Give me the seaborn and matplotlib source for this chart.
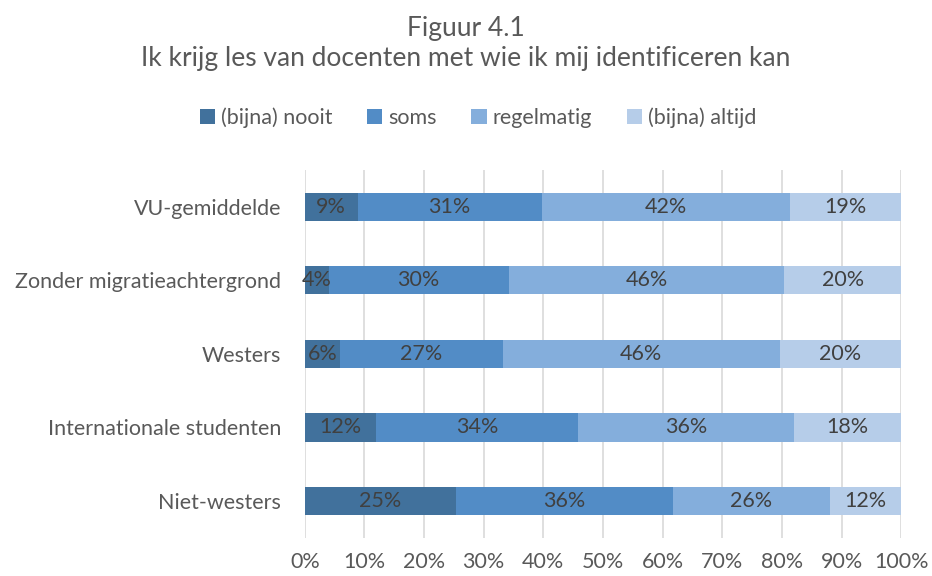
import matplotlib
matplotlib.use("Agg")
import matplotlib.pyplot as plt
import seaborn as sns
import pandas as pd
import numpy as np

groups = ["VU-gemiddelde", "Zonder migratieachtergrond", "Westers",
          "Internationale studenten", "Niet-westers"]
answers = ["(bijna) nooit", "soms", "regelmatig", "(bijna) altijd"]
nooit = [8.9, 4.0, 5.9, 11.9, 25.4]
soms = [30.8, 30.2, 27.3, 33.9, 36.3]
regelmatig = [41.7, 46.2, 46.4, 36.2, 26.4]
altijd = [18.6, 19.6, 20.4, 18.0, 11.9]
ticks = [0, 10, 20, 30, 40, 50, 60, 70, 80, 90, 100]
colors = ["#41719C", "#528CC6", "#84AEDC", "#B6CDE9"]
text_grey = "#595959"

sns.set_theme(style="white")
plt.rcParams["font.family"] = ["Lato", "DejaVu Sans"]

series = [nooit, soms, regelmatig, altijd]
cum = np.cumsum(np.array(series), axis=0)

fig = plt.figure(figsize=(9.32, 5.76), dpi=100)
ax = fig.add_axes([0.327, 0.0663, 0.640, 0.6387])

# stacked bars: draw cumulative totals from the outermost layer inwards
for i in range(len(answers) - 1, -1, -1):
    tmp = pd.DataFrame({"groep": groups, "waarde": cum[i]})
    sns.barplot(data=tmp, y="groep", x="waarde", orient="h", color=colors[i],
                saturation=1, width=0.385, ax=ax, label=answers[i],
                edgecolor="none", linewidth=0)

# percentage labels centered in each segment
for i in range(len(answers)):
    for j in range(len(groups)):
        right = min(cum[i][j], 100)
        left = cum[i][j] - series[i][j]
        ax.text((left + right) / 2, j, f"{series[i][j]:.0f}%", ha="center",
                va="center", fontsize=15.5, color="#404040")

ax.set_xlim(0, 100)
ax.set_ylim(len(groups) - 0.5, -0.5)
ax.set_xticks(ticks)
ax.set_xticklabels([f"{t}%" for t in ticks])
ax.grid(axis="x", color="#D9D9D9", linewidth=1.2)
ax.set_axisbelow(True)
for s in ax.spines.values():
    s.set_visible(False)
ax.set_xlabel("")
ax.set_ylabel("")
ax.tick_params(axis="x", length=0, pad=10, labelsize=15.5, labelcolor=text_grey)
ax.tick_params(axis="y", length=0, pad=17, labelsize=15.5, labelcolor=text_grey)

handles, labels = ax.get_legend_handles_labels()
order = [labels.index(a) for a in answers]
leg = fig.legend([handles[k] for k in order], answers, loc="center",
                 bbox_to_anchor=(0.513, 0.795), ncol=4, frameon=False,
                 fontsize=15.5, handlelength=0.7, handleheight=0.7,
                 handletextpad=0.3, columnspacing=1.6, labelcolor=text_grey)
if ax.get_legend() is not None:
    ax.get_legend().remove()

fig.text(0.5, 0.951, "Figuur 4.1", ha="center", va="center", fontsize=19,
         color=text_grey)
fig.text(0.5, 0.899, "Ik krijg les van docenten met wie ik mij identificeren kan",
         ha="center", va="center", fontsize=19, color=text_grey)

fig.savefig("out.png", dpi=100)
